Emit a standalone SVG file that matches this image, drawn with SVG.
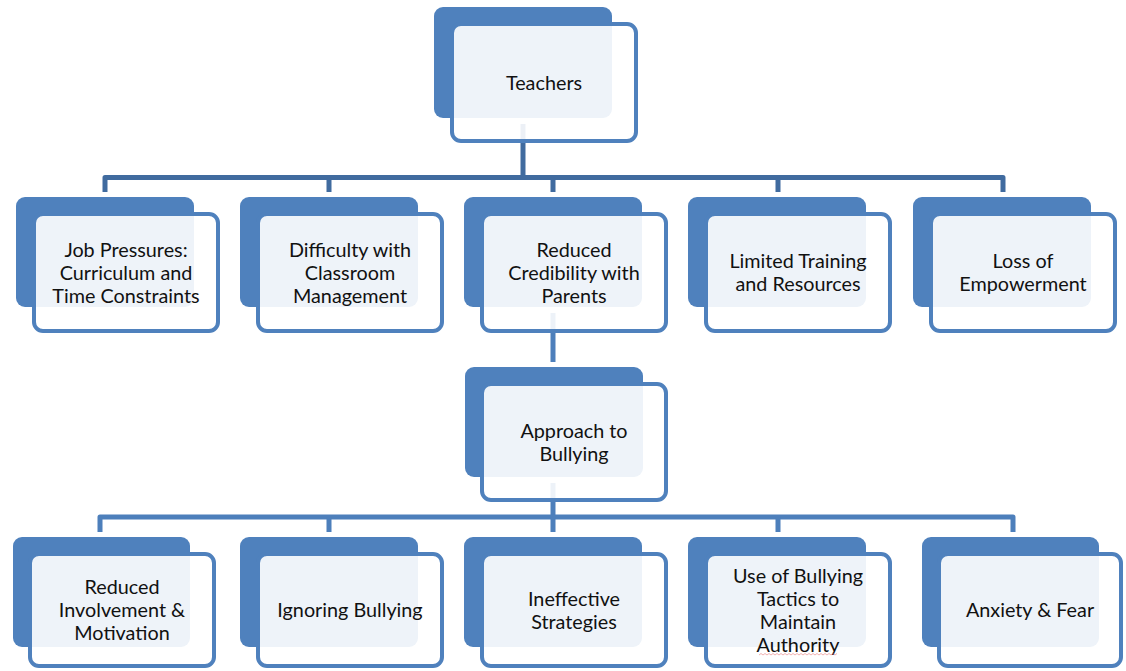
<svg xmlns="http://www.w3.org/2000/svg" width="1126" height="671" viewBox="0 0 1126 671">
<style>
.back{fill:#4F81BD}
.front{fill:#FFFFFF;fill-opacity:0.9;stroke:#4F81BD;stroke-width:4}
.lbl{font-family:Lato,"Liberation Sans",sans-serif;font-size:19.8px;fill:#111;text-anchor:middle}
.c1{fill:none;stroke:#406B9F;stroke-width:5;stroke-linejoin:round}
.c2{fill:none;stroke:#4D7FBB;stroke-width:5;stroke-linejoin:round}
</style>
<rect width="1126" height="671" fill="#FFFFFF"/>
<g id="connectors">
<path class="c1" d="M523,124 V177.5"/>
<path class="c1" d="M105,192 V177.5 H1003 V192"/>
<path class="c1" d="M329,177.5 V192 M553,177.5 V192 M778,177.5 V192"/>
<path class="c2" d="M553,313 V362"/>
<path class="c2" d="M553,483 V517"/>
<path class="c2" d="M100,532 V517 H1013 V532"/>
<path class="c2" d="M329,517 V532 M553,517 V532 M778,517 V532"/>
</g>
<g id="teachers">
<rect class="back" x="434" y="7" width="178" height="111" rx="9"/>
<rect class="front" x="452" y="24" width="184" height="117" rx="9"/>
<text class="lbl" x="544" y="89.5">Teachers</text>
</g>
<g id="job-pressures">
<rect class="back" x="16" y="197" width="178" height="110" rx="9"/>
<rect class="front" x="34" y="214" width="184" height="117" rx="9"/>
<text class="lbl" x="126" y="256.5">Job Pressures:</text>
<text class="lbl" x="126" y="279.5">Curriculum and</text>
<text class="lbl" x="126" y="302.5">Time Constraints</text>
</g>
<g id="classroom-management">
<rect class="back" x="240" y="197" width="178" height="110" rx="9"/>
<rect class="front" x="258" y="214" width="184" height="117" rx="9"/>
<text class="lbl" x="350" y="256.5">Difficulty with</text>
<text class="lbl" x="350" y="279.5">Classroom</text>
<text class="lbl" x="350" y="302.5">Management</text>
</g>
<g id="reduced-credibility">
<rect class="back" x="464" y="197" width="178" height="110" rx="9"/>
<rect class="front" x="482" y="214" width="184" height="117" rx="9"/>
<text class="lbl" x="574" y="256.5">Reduced</text>
<text class="lbl" x="574" y="279.5">Credibility with</text>
<text class="lbl" x="574" y="302.5">Parents</text>
</g>
<g id="limited-training">
<rect class="back" x="688" y="197" width="178" height="110" rx="9"/>
<rect class="front" x="706" y="214" width="184" height="117" rx="9"/>
<text class="lbl" x="798" y="268">Limited Training</text>
<text class="lbl" x="798" y="291">and Resources</text>
</g>
<g id="loss-of-empowerment">
<rect class="back" x="913" y="197" width="178" height="110" rx="9"/>
<rect class="front" x="931" y="214" width="184" height="117" rx="9"/>
<text class="lbl" x="1023" y="268">Loss of</text>
<text class="lbl" x="1023" y="291">Empowerment</text>
</g>
<g id="approach">
<rect class="back" x="465" y="367" width="178" height="110" rx="9"/>
<rect class="front" x="482" y="384" width="184" height="116" rx="9"/>
<text class="lbl" x="574" y="437.5">Approach to</text>
<text class="lbl" x="574" y="460.5">Bullying</text>
</g>
<g id="reduced-involvement">
<rect class="back" x="13" y="537" width="177" height="110" rx="9"/>
<rect class="front" x="30" y="554" width="184" height="112" rx="9"/>
<text class="lbl" x="122" y="594">Reduced</text>
<text class="lbl" x="122" y="617">Involvement &amp;</text>
<text class="lbl" x="122" y="640">Motivation</text>
</g>
<g id="ignoring-bullying">
<rect class="back" x="240" y="537" width="178" height="110" rx="9"/>
<rect class="front" x="258" y="554" width="184" height="112" rx="9"/>
<text class="lbl" x="350" y="617">Ignoring Bullying</text>
</g>
<g id="ineffective-strategies">
<rect class="back" x="464" y="537" width="178" height="110" rx="9"/>
<rect class="front" x="482" y="554" width="184" height="112" rx="9"/>
<text class="lbl" x="574" y="605.5">Ineffective</text>
<text class="lbl" x="574" y="628.5">Strategies</text>
</g>
<g id="bullying-tactics">
<rect class="back" x="688" y="537" width="178" height="110" rx="9"/>
<rect class="front" x="706" y="554" width="184" height="112" rx="9"/>
<text class="lbl" x="798" y="582.5">Use of Bullying</text>
<text class="lbl" x="798" y="605.5">Tactics to</text>
<text class="lbl" x="798" y="628.5">Maintain</text>
<text class="lbl" x="798" y="651.5">Authority</text>
<path d="M759,655 l2,-1.5 l2,1.5 l2,-1.5 l2,1.5 l2,-1.5 l2,1.5 l2,-1.5 l2,1.5 l2,-1.5 l2,1.5 l2,-1.5 l2,1.5 l2,-1.5 l2,1.5 l2,-1.5 l2,1.5 l2,-1.5 l2,1.5 l2,-1.5 l2,1.5 l2,-1.5 l2,1.5 l2,-1.5 l2,1.5 l2,-1.5 l2,1.5 l2,-1.5 l2,1.5 l2,-1.5 l2,1.5 l2,-1.5 l2,1.5 l2,-1.5 l2,1.5 l2,-1.5 l2,1.5 l2,-1.5 l2,1.5 l2,-1.5" fill="none" stroke="#E57373" stroke-width="0.8" stroke-opacity="0.7"/>
</g>
<g id="anxiety-fear">
<rect class="back" x="922" y="537" width="177" height="110" rx="9"/>
<rect class="front" x="939" y="554" width="182" height="112" rx="9"/>
<text class="lbl" x="1030" y="617">Anxiety &amp; Fear</text>
</g>
</svg>
